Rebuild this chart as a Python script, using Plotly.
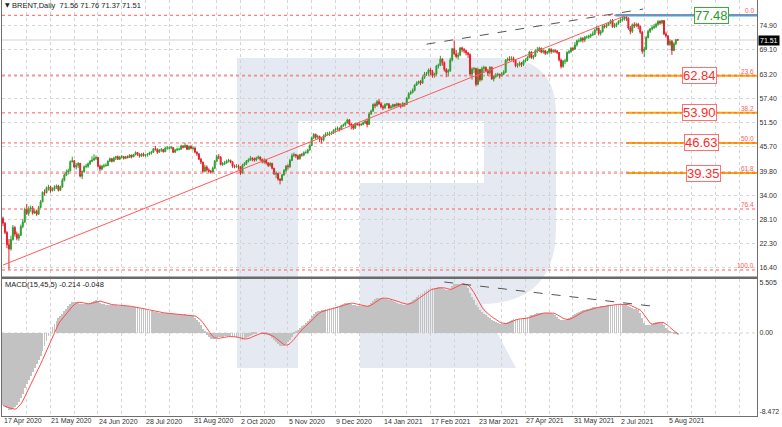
import plotly.graph_objects as go
import pandas as pd

# ---------------- data ----------------
open_ = [
    28.4, 27.2, 25.0, 22.0, 21.0, 23.3, 26.2, 24.6, 23.6, 24.3,
    26.4, 27.5, 30.6, 29.6, 30.8, 30.9, 29.7, 30.1, 29.4, 31.0,
    32.4, 34.7, 34.6, 35.8, 36.0, 35.1, 35.4, 35.9, 36.2, 35.2,
    36.0, 37.6, 38.9, 39.6, 39.9, 42.1, 42.3, 40.8, 41.2, 41.7,
    38.6, 39.7, 40.9, 41.0, 41.6, 42.2, 42.5, 42.9, 43.1, 41.0,
    40.3, 41.0, 41.1, 41.2, 42.2, 42.8, 42.2, 43.0, 43.3, 42.7,
    43.2, 43.3, 42.9, 43.3, 43.1, 43.7, 43.3, 43.8, 44.3, 43.9,
    43.5, 43.9, 43.6, 43.8, 43.9, 44.2, 44.4, 45.2, 45.1, 44.4,
    44.9, 45.0, 44.5, 45.4, 45.4, 45.4, 45.5, 44.4, 44.9, 45.1,
    45.1, 45.9, 45.6, 46.0, 45.1, 45.8, 45.3, 45.4, 44.4, 44.0,
    42.7, 42.0, 39.8, 40.8, 40.1, 39.8, 39.6, 40.5, 42.2, 43.3,
    43.2, 41.4, 41.6, 41.8, 42.2, 42.4, 42.0, 41.0, 40.9, 41.0,
    40.9, 39.3, 41.3, 41.6, 42.2, 42.5, 42.9, 42.8, 42.5, 43.0,
    43.2, 42.6, 42.0, 42.5, 41.8, 41.2, 41.7, 40.5, 39.1, 39.3,
    37.9, 37.6, 38.9, 40.0, 41.0, 40.9, 42.4, 43.6, 43.8, 43.5,
    42.8, 43.8, 43.7, 44.3, 44.3, 44.9, 46.0, 47.9, 48.7, 48.0,
    48.2, 47.6, 47.4, 48.3, 48.7, 48.9, 48.9, 49.1, 49.7, 49.9,
    50.1, 49.9, 50.8, 51.0, 51.5, 52.2, 51.2, 50.9, 50.2, 51.3,
    51.1, 51.0, 51.1, 51.5, 51.9, 51.1, 53.6, 54.3, 55.9, 55.7,
    56.6, 56.1, 55.4, 55.1, 55.9, 56.1, 55.1, 55.4, 55.9, 55.6,
    56.1, 55.8, 55.5, 56.2, 55.9, 57.4, 58.5, 58.8, 59.3, 60.6,
    61.1, 61.5, 61.1, 62.4, 63.3, 63.4, 64.3, 63.9, 62.9, 63.3,
    65.2, 65.4, 66.9, 66.1, 64.4, 63.7, 64.1, 66.7, 69.4, 68.2,
    67.5, 67.9, 69.6, 69.2, 68.9, 68.4, 68.0, 63.3, 64.5, 64.6,
    60.8, 64.4, 61.9, 64.6, 64.9, 64.1, 63.5, 64.9, 62.1, 62.7,
    63.0, 63.2, 62.9, 63.3, 63.7, 66.6, 66.9, 66.8, 67.0, 66.6,
    65.3, 65.4, 65.9, 65.6, 66.4, 66.7, 67.3, 68.6, 67.3, 67.6,
    68.9, 69.0, 69.5, 68.6, 68.9, 68.3, 68.6, 69.3, 68.7, 69.0,
    68.8, 68.5, 66.7, 65.1, 66.4, 66.4, 68.5, 68.7, 69.5, 69.3,
    70.3, 71.3, 71.3, 71.9, 71.5, 72.2, 72.2, 72.5, 72.7, 72.9,
    73.9, 74.4, 73.1, 73.5, 74.9, 74.8, 75.2, 75.6, 76.2, 74.7,
    75.0, 75.5, 76.0, 76.4, 76.6, 77.0, 76.8, 74.4, 73.6, 75.2,
    75.0, 75.3, 74.8, 73.4, 68.8, 69.3, 72.1, 73.6, 74.2, 74.5,
    74.8, 75.3, 76.0, 75.6, 76.2, 73.0, 72.5, 70.4, 71.2, 69.0,
    70.6, 71.56,
]
high = [
    28.8, 27.5, 25.3, 23.4, 24.2, 26.8, 26.5, 25.2, 24.8, 26.9,
    28.2, 31.0, 31.9, 31.3, 31.5, 31.4, 30.6, 30.5, 31.4, 32.8,
    34.9, 35.4, 36.1, 36.5, 36.3, 35.9, 36.4, 36.6, 36.5, 36.3,
    38.1, 39.2, 40.2, 40.4, 42.4, 43.3, 42.5, 41.8, 42.0, 41.8,
    40.0, 41.2, 41.6, 41.9, 42.5, 43.4, 43.9, 43.6, 43.2, 41.4,
    41.3, 41.6, 41.7, 42.4, 43.1, 43.0, 43.3, 43.5, 43.6, 43.5,
    43.7, 43.5, 43.5, 43.6, 43.9, 43.8, 44.0, 44.6, 44.4, 44.1,
    44.2, 44.3, 44.0, 44.2, 44.5, 44.7, 45.4, 45.9, 45.3, 45.2,
    45.4, 45.2, 45.6, 45.9, 45.8, 45.9, 45.6, 45.2, 45.5, 45.5,
    46.2, 46.1, 46.6, 46.2, 46.0, 46.1, 45.8, 45.6, 44.6, 44.1,
    43.0, 42.1, 41.4, 41.2, 40.5, 40.1, 40.9, 42.5, 43.8, 43.9,
    43.4, 42.0, 42.3, 42.6, 42.8, 42.6, 42.2, 41.4, 41.5, 41.4,
    41.0, 41.6, 42.0, 42.5, 42.9, 43.5, 43.2, 43.1, 43.3, 43.6,
    43.4, 42.9, 42.9, 42.8, 42.0, 42.0, 41.8, 40.6, 39.8, 39.4,
    38.1, 39.2, 40.3, 41.3, 41.5, 42.8, 44.1, 44.3, 44.0, 43.8,
    44.0, 44.2, 44.6, 44.8, 45.2, 46.3, 48.2, 49.0, 48.9, 48.6,
    48.4, 48.0, 48.7, 49.2, 49.3, 49.4, 49.4, 49.9, 50.3, 50.6,
    50.4, 51.0, 51.3, 51.8, 52.5, 52.4, 51.4, 51.2, 51.6, 51.5,
    51.6, 51.5, 51.8, 52.1, 52.5, 54.0, 54.7, 56.2, 56.4, 57.0,
    57.3, 56.5, 55.8, 56.2, 56.3, 56.2, 55.8, 56.1, 56.1, 56.4,
    56.3, 56.2, 56.5, 56.3, 57.7, 58.9, 59.3, 59.8, 60.8, 61.5,
    61.7, 61.8, 62.8, 63.8, 63.8, 64.6, 64.8, 64.3, 63.6, 65.5,
    65.8, 67.7, 67.1, 66.3, 64.7, 64.5, 67.2, 69.6, 71.4, 69.1,
    68.5, 69.8, 69.9, 69.6, 69.1, 68.6, 68.3, 64.9, 65.0, 64.8,
    64.8, 64.5, 65.1, 65.3, 65.1, 64.5, 65.2, 65.1, 63.0, 63.5,
    63.6, 63.4, 63.8, 64.2, 66.9, 67.3, 67.6, 67.6, 67.5, 66.9,
    65.9, 66.3, 66.2, 66.8, 67.1, 67.6, 68.9, 68.8, 67.9, 69.3,
    69.8, 69.9, 69.7, 69.2, 69.1, 68.9, 69.6, 69.5, 69.3, 69.2,
    69.1, 68.6, 67.0, 66.7, 67.0, 68.8, 69.1, 69.8, 69.9, 71.0,
    71.6, 71.9, 72.3, 72.2, 72.5, 72.6, 72.8, 73.1, 73.6, 74.2,
    74.9, 74.5, 73.9, 75.2, 75.3, 75.6, 75.9, 76.5, 76.6, 75.6,
    75.7, 76.3, 76.8, 77.1, 77.48, 77.4, 77.0, 74.9, 75.5, 75.8,
    75.7, 75.6, 75.0, 73.7, 69.9, 72.5, 74.0, 74.4, 75.0, 75.4,
    75.7, 76.3, 76.3, 76.4, 76.3, 73.5, 72.7, 71.7, 71.5, 71.0,
    71.8, 71.76,
]
low = [
    26.5, 24.6, 21.2, 16.0, 20.6, 23.0, 24.0, 23.1, 23.0, 24.1,
    26.0, 27.3, 29.2, 29.0, 30.0, 29.3, 29.5, 29.0, 29.2, 30.8,
    32.3, 33.9, 34.4, 35.1, 34.6, 34.9, 35.0, 35.5, 34.9, 35.0,
    35.8, 37.3, 38.6, 39.0, 39.8, 41.9, 40.5, 40.2, 40.6, 38.3,
    37.9, 39.4, 40.5, 40.6, 41.3, 42.0, 42.3, 42.5, 40.7, 39.8,
    40.0, 40.6, 40.9, 41.0, 42.0, 41.9, 42.0, 42.5, 42.5, 42.5,
    42.9, 42.6, 42.7, 42.9, 43.0, 42.9, 43.2, 43.6, 43.5, 43.1,
    43.2, 43.3, 43.3, 43.3, 43.6, 43.8, 44.2, 44.8, 44.0, 44.2,
    44.5, 44.3, 44.4, 45.0, 45.0, 45.1, 44.2, 44.2, 44.7, 44.8,
    45.0, 45.3, 45.4, 44.9, 44.9, 45.1, 44.9, 44.1, 43.5, 42.5,
    41.5, 39.4, 39.5, 39.8, 39.4, 39.2, 39.4, 40.3, 42.0, 42.7,
    41.2, 41.1, 41.3, 41.6, 41.9, 41.7, 40.6, 40.5, 40.6, 40.2,
    38.9, 39.1, 41.0, 41.3, 41.9, 42.3, 42.2, 42.1, 42.2, 42.7,
    42.3, 41.7, 41.6, 41.4, 40.8, 40.9, 40.2, 38.9, 38.1, 37.5,
    36.6, 37.4, 38.7, 39.6, 40.2, 40.6, 42.2, 43.2, 43.0, 42.5,
    42.6, 43.3, 43.4, 44.0, 44.0, 44.8, 45.9, 47.6, 47.5, 47.6,
    46.8, 46.5, 47.0, 48.0, 48.4, 48.3, 48.6, 48.8, 49.2, 49.6,
    49.4, 49.7, 50.5, 50.6, 51.3, 50.8, 49.9, 49.8, 50.0, 50.8,
    50.6, 50.7, 50.9, 51.2, 50.4, 51.0, 53.5, 54.2, 55.0, 55.4,
    55.8, 55.0, 54.6, 54.9, 55.6, 54.8, 54.9, 55.1, 55.2, 55.4,
    55.3, 55.0, 55.3, 55.4, 55.8, 57.2, 58.3, 58.6, 59.1, 60.4,
    60.8, 60.6, 60.9, 62.1, 62.8, 62.9, 63.0, 62.4, 62.4, 62.9,
    64.6, 65.2, 65.3, 63.9, 62.5, 62.7, 63.8, 66.3, 67.9, 67.1,
    66.8, 67.6, 68.6, 68.3, 67.8, 67.2, 62.7, 61.9, 63.5, 60.3,
    60.6, 61.4, 61.7, 63.7, 63.8, 62.8, 63.2, 61.9, 61.5, 62.3,
    62.6, 62.2, 62.6, 63.0, 63.5, 66.3, 66.4, 66.5, 66.1, 64.9,
    64.8, 65.1, 65.0, 65.2, 66.1, 66.4, 67.1, 66.9, 66.8, 67.4,
    68.4, 68.6, 68.3, 68.2, 67.9, 68.0, 68.2, 68.2, 68.4, 68.4,
    68.1, 66.3, 64.6, 64.8, 65.7, 66.2, 68.1, 68.4, 68.8, 69.1,
    69.9, 70.9, 71.0, 70.9, 71.0, 71.8, 71.8, 72.0, 72.5, 72.7,
    73.8, 72.6, 72.6, 73.3, 74.3, 74.4, 74.9, 75.3, 74.5, 74.4,
    74.6, 75.2, 75.6, 76.0, 76.2, 76.1, 74.0, 72.9, 73.2, 74.4,
    74.6, 74.1, 73.0, 68.2, 67.4, 69.1, 71.9, 73.2, 73.8, 74.2,
    74.4, 75.0, 75.2, 75.3, 72.7, 72.1, 70.1, 70.1, 67.9, 68.8,
    70.3, 71.37,
]
close = [
    27.2, 25.0, 22.0, 21.0, 23.3, 26.2, 24.6, 23.6, 24.3, 26.4,
    27.5, 30.6, 29.6, 30.8, 30.9, 29.7, 30.1, 29.4, 31.0, 32.4,
    34.7, 34.6, 35.8, 36.0, 35.1, 35.4, 35.9, 36.2, 35.2, 36.0,
    37.6, 38.9, 39.6, 39.9, 42.1, 42.3, 40.8, 41.2, 41.7, 38.6,
    39.7, 40.9, 41.0, 41.6, 42.2, 42.5, 42.9, 43.1, 41.0, 40.3,
    41.0, 41.1, 41.2, 42.2, 42.8, 42.2, 43.0, 43.3, 42.7, 43.2,
    43.3, 42.9, 43.3, 43.1, 43.7, 43.3, 43.8, 44.3, 43.9, 43.5,
    43.9, 43.6, 43.8, 43.9, 44.2, 44.4, 45.2, 45.1, 44.4, 44.9,
    45.0, 44.5, 45.4, 45.4, 45.4, 45.5, 44.4, 44.9, 45.1, 45.1,
    45.9, 45.6, 46.0, 45.1, 45.8, 45.3, 45.4, 44.4, 44.0, 42.7,
    42.0, 39.8, 40.8, 40.1, 39.8, 39.6, 40.5, 42.2, 43.3, 43.2,
    41.4, 41.6, 41.8, 42.2, 42.4, 42.0, 41.0, 40.9, 41.0, 40.9,
    39.3, 41.3, 41.6, 42.2, 42.5, 42.9, 42.8, 42.5, 43.0, 43.2,
    42.6, 42.0, 42.5, 41.8, 41.2, 41.7, 40.5, 39.1, 39.3, 37.9,
    37.6, 38.9, 40.0, 41.0, 40.9, 42.4, 43.6, 43.8, 43.5, 42.8,
    43.8, 43.7, 44.3, 44.3, 44.9, 46.0, 47.9, 48.7, 48.0, 48.2,
    47.6, 47.4, 48.3, 48.7, 48.9, 48.9, 49.1, 49.7, 49.9, 50.1,
    49.9, 50.8, 51.0, 51.5, 52.2, 51.2, 50.9, 50.2, 51.3, 51.1,
    51.0, 51.1, 51.5, 51.9, 51.1, 53.6, 54.3, 55.9, 55.7, 56.6,
    56.1, 55.4, 55.1, 55.9, 56.1, 55.1, 55.4, 55.9, 55.6, 56.1,
    55.8, 55.5, 56.2, 55.9, 57.4, 58.5, 58.8, 59.3, 60.6, 61.1,
    61.5, 61.1, 62.4, 63.3, 63.4, 64.3, 63.9, 62.9, 63.3, 65.2,
    65.4, 66.9, 66.1, 64.4, 63.7, 64.1, 66.7, 69.4, 68.2, 67.5,
    67.9, 69.6, 69.2, 68.9, 68.4, 68.0, 63.3, 64.5, 64.6, 60.8,
    64.4, 61.9, 64.6, 64.9, 64.1, 63.5, 64.9, 62.1, 62.7, 63.0,
    63.2, 62.9, 63.3, 63.7, 66.6, 66.9, 66.8, 67.0, 66.6, 65.3,
    65.4, 65.9, 65.6, 66.4, 66.7, 67.3, 68.6, 67.3, 67.6, 68.9,
    69.0, 69.5, 68.6, 68.9, 68.3, 68.6, 69.3, 68.7, 69.0, 68.8,
    68.5, 66.7, 65.1, 66.4, 66.4, 68.5, 68.7, 69.5, 69.3, 70.3,
    71.3, 71.3, 71.9, 71.5, 72.2, 72.2, 72.5, 72.7, 72.9, 73.9,
    74.4, 73.1, 73.5, 74.9, 74.8, 75.2, 75.6, 76.2, 74.7, 75.0,
    75.5, 76.0, 76.4, 76.6, 77.0, 76.8, 74.4, 73.6, 75.2, 75.0,
    75.3, 74.8, 73.4, 68.8, 69.3, 72.1, 73.6, 74.2, 74.5, 74.8,
    75.3, 76.0, 75.6, 76.2, 73.0, 72.5, 70.4, 71.2, 69.0, 70.6,
    71.56, 71.51,
]
macd_main = [
    -7.4, -7.5, -7.7, -7.9, -7.9, -7.8, -7.6, -7.3, -7.0, -6.6,
    -6.2, -5.6, -5.2, -4.8, -4.4, -4.0, -3.6, -3.2, -2.8, -2.3,
    -1.8, -1.3, -0.8, -0.3, 0.2, 0.6, 0.95, 1.25, 1.5, 1.7,
    1.95, 2.2, 2.45, 2.7, 2.95, 3.15, 3.2, 3.2, 3.15, 3.0,
    2.95, 2.95, 2.95, 3.0, 3.1, 3.2, 3.3, 3.35, 3.25, 3.1,
    3.0, 2.95, 2.9, 2.9, 2.9, 2.85, 2.85, 2.85, 2.8, 2.8,
    2.8, 2.75, 2.75, 2.7, 2.7, 2.65, 2.6, 2.6, 2.55, 2.5,
    2.45, 2.4, 2.35, 2.3, 2.25, 2.2, 2.2, 2.15, 2.1, 2.05,
    2.05, 2.0, 2.0, 2.0, 2.0, 1.95, 1.9, 1.9, 1.9, 1.9,
    1.9, 1.85, 1.9, 1.85, 1.8, 1.75, 1.7, 1.55, 1.35, 1.1,
    0.8, 0.45, 0.1, -0.2, -0.45, -0.6, -0.65, -0.6, -0.5, -0.4,
    -0.4, -0.4, -0.35, -0.35, -0.35, -0.35, -0.4, -0.45, -0.5, -0.55,
    -0.7, -0.7, -0.6, -0.5, -0.4, -0.3, -0.2, -0.1, -0.05, 0.0,
    0.0, -0.05, -0.1, -0.15, -0.25, -0.35, -0.5, -0.7, -0.9, -1.1,
    -1.3, -1.35, -1.3, -1.15, -0.95, -0.7, -0.4, -0.1, 0.15, 0.35,
    0.55, 0.7, 0.85, 1.0, 1.2, 1.45, 1.7, 1.95, 2.1, 2.2,
    2.25, 2.3, 2.35, 2.4, 2.45, 2.5, 2.55, 2.6, 2.65, 2.75,
    2.8, 2.85, 2.95, 3.05, 3.1, 3.1, 3.0, 2.9, 2.85, 2.8,
    2.75, 2.7, 2.7, 2.7, 2.75, 2.9, 3.1, 3.3, 3.45, 3.55,
    3.6, 3.6, 3.55, 3.5, 3.45, 3.4, 3.35, 3.3, 3.2, 3.1,
    3.0, 2.95, 2.9, 2.9, 2.95, 3.05, 3.2, 3.35, 3.5, 3.7,
    3.85, 3.95, 4.1, 4.25, 4.4, 4.5, 4.55, 4.55, 4.55, 4.6,
    4.65, 4.7, 4.6, 4.45, 4.35, 4.35, 4.5, 4.75, 4.95, 5.0,
    5.0, 5.0, 5.0, 4.95, 4.85, 4.6, 4.1, 3.7, 3.35, 2.9,
    2.6, 2.3, 2.1, 1.95, 1.8, 1.65, 1.5, 1.35, 1.2, 1.1,
    1.0, 0.95, 0.9, 0.9, 1.0, 1.1, 1.25, 1.35, 1.45, 1.45,
    1.45, 1.45, 1.45, 1.5, 1.55, 1.6, 1.75, 1.8, 1.85, 1.95,
    2.0, 2.05, 2.05, 2.05, 2.05, 2.05, 2.05, 2.0, 1.95, 1.8,
    1.6, 1.45, 1.35, 1.3, 1.35, 1.4, 1.5, 1.65, 1.8, 1.95,
    2.05, 2.15, 2.2, 2.3, 2.35, 2.4, 2.45, 2.5, 2.6, 2.65,
    2.65, 2.65, 2.7, 2.75, 2.8, 2.85, 2.85, 2.9, 2.9, 2.9,
    2.95, 2.95, 2.95, 2.95, 2.95, 2.9, 2.75, 2.6, 2.5, 2.45,
    2.4, 2.3, 2.0, 1.5, 1.05, 0.85, 0.8, 0.85, 0.95, 1.05,
    1.1, 1.15, 1.15, 1.0, 0.8, 0.55, 0.35, 0.12, 0.05, -0.05,
    -0.15, -0.214,
]
assert len(open_) == len(high) == len(low) == len(close) == len(macd_main) == 342
bar_index = list(range(len(close)))

date_tick_index = [0, 24, 48, 72, 96, 120, 144, 168, 192, 216, 240, 264, 288, 312, 336]
date_tick_labels = ["17 Apr 2020", "21 May 2020", "24 Jun 2020", "28 Jul 2020", "31 Aug 2020",
                    "2 Oct 2020", "5 Nov 2020", "9 Dec 2020", "14 Jan 2021", "17 Feb 2021",
                    "23 Mar 2021", "27 Apr 2021", "31 May 2021", "2 Jul 2021", "5 Aug 2021"]
price_ticks = [74.90, 69.10, 63.20, 57.40, 51.50, 45.70, 39.80, 34.00, 28.10, 22.30, 16.40]
macd_scale_max, macd_scale_min = 5.505, -8.472

fib_levels = [77.48, 62.84, 53.90, 46.63, 39.35, 30.66, 15.92]
fib_names = ["0.0", "23.6", "38.2", "50.0", "61.8", "76.4", "100.0"]
fib_boxed_values = [77.48, 62.84, 53.90, 46.63, 39.35]
last_price = 71.51
header_text = "BRENT,Daily  71.56 71.76 71.37 71.51"
macd_header_text = "MACD(15,45,5) -0.214 -0.048"

# trend lines drawn on the chart (bar index, value)
support_line = [(0, 17.1), (314, 77.3)]
price_resistance_line = [(214, 70.5), (323.5, 79.0)]
macd_divergence_line = [(223, 5.2), (327, 2.76)]

# MACD signal line: 5-period simple average of the main line (as in MACD(15,45,5))
signal = pd.Series(macd_main).rolling(5, min_periods=1).mean().tolist()

# ---------------- geometry / style ----------------
W, H = 782, 427
ML, MR, MT, MB = 2, 25, 0, 11
PW, PH = W - ML - MR, H - MT - MB
FONT = "Liberation Sans"
UP, DOWN = "#2f9e2f", "#e8202a"
GRID = "#d4d4d4"
FRAME = "#6e6e6e"
FIB_RED = "#ff5c5c"


def px_x(px):
    return (px - ML) / PW


def px_y(py):
    return (PH - (py - MT)) / PH


main_dom = [px_y(277), 1.0]
macd_dom = [0.0, px_y(279)]
x_range = [-0.5, 381.0]
y_range = [14.22, 81.18]

fig = go.Figure()

fig.add_trace(go.Candlestick(
    x=bar_index, open=open_, high=high, low=low, close=close,
    increasing=dict(line=dict(color=UP, width=1), fillcolor=UP),
    decreasing=dict(line=dict(color=DOWN, width=1), fillcolor=DOWN),
    whiskerwidth=0, xaxis="x", yaxis="y", hoverinfo="skip"))

fig.add_trace(go.Bar(x=bar_index, y=macd_main, width=0.42,
                     marker=dict(color="#c2c2c2", line=dict(width=0)),
                     xaxis="x2", yaxis="y2", hoverinfo="skip"))
fig.add_trace(go.Scatter(x=bar_index, y=signal, mode="lines",
                         line=dict(color="#ff4d4d", width=1),
                         xaxis="x2", yaxis="y2", hoverinfo="skip"))

shapes = []


def P(px, py):
    return f"{px_x(px):.5f},{px_y(py):.5f}"


# R watermark (background decoration)
r_path = ("M " + P(237, 58) + " L " + P(500, 58) + " Q " + P(556, 58) + " " + P(556, 114) +
          " L " + P(556, 228) + " Q " + P(556, 303) + " " + P(482, 304) +
          " L " + P(516, 368) + " L " + P(360, 368) + " L " + P(360, 183) +
          " L " + P(484, 183) + " L " + P(484, 121) + " L " + P(298, 121) +
          " L " + P(298, 368) + " L " + P(237, 368) + " Z")
shapes.append(dict(type="path", path=r_path, xref="paper", yref="paper",
                   fillcolor="#e5eaf2", line=dict(width=0), layer="below"))

shapes.append(dict(type="line", xref="paper", yref="y", x0=0, x1=1, y0=last_price, y1=last_price,
                   line=dict(color="#d2d2d2", width=1), layer="below"))
shapes.append(dict(type="line", xref="paper", yref="y2", x0=0, x1=1, y0=0, y1=0,
                   line=dict(color=GRID, width=1, dash="dot"), layer="below"))

shapes.append(dict(type="line", xref="x", yref="y", x0=309.5, x1=x_range[1], y0=fib_levels[0], y1=fib_levels[0],
                   line=dict(color="#3fa7e0", width=2.5)))
for lv in fib_levels[1:5]:
    shapes.append(dict(type="line", xref="x", yref="y", x0=315, x1=x_range[1], y0=lv, y1=lv,
                       line=dict(color="#ffa600", width=2)))
for lv in fib_levels:
    shapes.append(dict(type="line", xref="paper", yref="y", x0=0, x1=1, y0=lv, y1=lv,
                       line=dict(color=FIB_RED, width=1, dash="dot")))

shapes.append(dict(type="line", xref="x", yref="y",
                   x0=support_line[0][0], y0=support_line[0][1], x1=support_line[1][0], y1=support_line[1][1],
                   line=dict(color="#ff5a5a", width=1)))
shapes.append(dict(type="line", xref="x", yref="y",
                   x0=price_resistance_line[0][0], y0=price_resistance_line[0][1],
                   x1=price_resistance_line[1][0], y1=price_resistance_line[1][1],
                   line=dict(color="#555555", width=1, dash="dash")))
shapes.append(dict(type="line", xref="x2", yref="y2",
                   x0=macd_divergence_line[0][0], y0=macd_divergence_line[0][1],
                   x1=macd_divergence_line[1][0], y1=macd_divergence_line[1][1],
                   line=dict(color="#555555", width=1, dash="dash")))
# thick separator between the price window and the indicator window
shapes.append(dict(type="rect", xref="paper", yref="paper", x0=0, x1=1, y0=px_y(279), y1=px_y(276.5),
                   fillcolor="#6a6a6a", line=dict(width=0)))

annotations = []
annotations.append(dict(xref="paper", yref="paper", x=px_x(3), y=px_y(5), xanchor="left", yanchor="middle",
                         text="\u25bc", showarrow=False, font=dict(family="DejaVu Sans", size=6, color="#222")))
annotations.append(dict(xref="paper", yref="paper", x=px_x(10), y=px_y(5.5), xanchor="left", yanchor="middle",
                         text=header_text, showarrow=False, font=dict(family=FONT, size=7.5, color="#222")))
annotations.append(dict(xref="paper", yref="paper", x=px_x(3), y=px_y(284.5), xanchor="left", yanchor="middle",
                         text=macd_header_text, showarrow=False, font=dict(family=FONT, size=7.5, color="#222")))
for lv, nm in zip(fib_levels, fib_names):
    annotations.append(dict(xref="paper", yref="y", x=1.0, y=lv, xanchor="right", yanchor="bottom",
                             text=nm, showarrow=False, font=dict(family=FONT, size=6.5, color=FIB_RED),
                             xshift=-1, yshift=-1))
box_centers_px = [711, 699.5, 699.5, 701, 703]
for i, (v, cx) in enumerate(zip(fib_boxed_values, box_centers_px)):
    col = "#2a9a2a" if i == 0 else "#ff2a2a"
    bcol = "#3aaa3a" if i == 0 else "#ff7070"
    annotations.append(dict(xref="paper", yref="y", x=px_x(cx), y=v, xanchor="center", yanchor="middle",
                             text=f"{v:.2f}", showarrow=False, bgcolor="white",
                             bordercolor=bcol, borderwidth=1, borderpad=0,
                             font=dict(family=FONT, size=13, color=col)))
annotations.append(dict(xref="paper", yref="y", x=px_x(758), y=last_price, xanchor="left", yanchor="middle",
                         text=f"{last_price:.2f}", showarrow=False, bgcolor="black", borderpad=1,
                         font=dict(family=FONT, size=7, color="white")))
for t, lab in zip(date_tick_index, date_tick_labels):
    annotations.append(dict(xref="x2", yref="paper", x=t, y=px_y(421.5), xanchor="left", yanchor="middle",
                             text=lab, showarrow=False, xshift=-1,
                             font=dict(family=FONT, size=7, color="#333")))

grid_ticks = list(range(0, 381, 12))
tickfont = dict(family=FONT, size=7, color="#333")

fig.update_layout(
    width=W, height=H, margin=dict(l=ML, r=MR, t=MT, b=MB, autoexpand=False),
    paper_bgcolor="white", plot_bgcolor="rgba(0,0,0,0)", showlegend=False, hovermode=False,
    bargap=0,
    shapes=shapes, annotations=annotations,
    xaxis=dict(domain=[0, 1], anchor="y", range=x_range, tickvals=grid_ticks, showticklabels=False,
               ticks="", showgrid=True, gridcolor=GRID, griddash="dot", gridwidth=1,
               showline=True, mirror=True, linecolor=FRAME, linewidth=1, zeroline=False,
               rangeslider=dict(visible=False)),
    xaxis2=dict(domain=[0, 1], anchor="y2", range=x_range, matches="x", tickvals=grid_ticks,
                showticklabels=False, ticks="", showgrid=True, gridcolor=GRID, griddash="dot", gridwidth=1,
                showline=True, mirror=True, linecolor=FRAME, linewidth=1, zeroline=False),
    yaxis=dict(domain=main_dom, anchor="x", side="right", range=y_range, tickvals=price_ticks,
               ticktext=[f"{v:.2f}" for v in price_ticks], tickfont=tickfont, ticks="", ticklen=0,
               showgrid=True, gridcolor=GRID, griddash="dot", gridwidth=1,
               showline=True, mirror=True, linecolor=FRAME, linewidth=1, zeroline=False),
    yaxis2=dict(domain=macd_dom, anchor="x2", side="right", range=[macd_scale_min, macd_scale_max],
                tickvals=[5.1, 0, -8.06], ticktext=[f"{macd_scale_max:.3f}", "0.00", f"{macd_scale_min:.3f}"],
                tickfont=tickfont, ticks="", ticklen=0, showgrid=False,
                showline=True, mirror=True, linecolor=FRAME, linewidth=1, zeroline=False),
)

fig.write_html("out.html", config={"displayModeBar": False},
               post_script="document.body.style.margin='0px';document.body.style.overflow='hidden';")
